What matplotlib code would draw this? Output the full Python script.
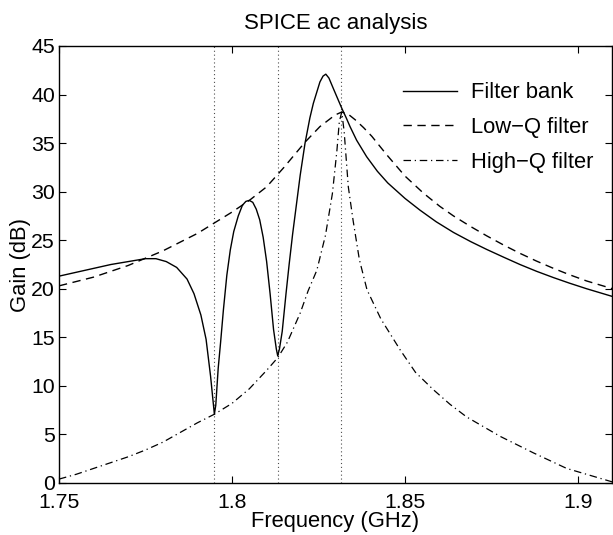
import matplotlib
matplotlib.use("Agg")
from matplotlib import pyplot as plt

plt.rcParams['font.family'] = ['Liberation Sans', 'DejaVu Sans']

# Filter bank (solid), GHz / dB
bank_f = [1.750, 1.755, 1.760, 1.765, 1.770, 1.775, 1.778, 1.781, 1.784, 1.787,
          1.789, 1.791, 1.7925, 1.7938, 1.7945, 1.7949, 1.7953, 1.7960, 1.7967, 1.7975,
          1.7985, 1.7995, 1.8005, 1.8018, 1.8030, 1.8040, 1.8050, 1.8060, 1.8070, 1.8080,
          1.8090, 1.8100, 1.8110, 1.8120, 1.8128, 1.8132, 1.8137, 1.8145, 1.8156, 1.8165,
          1.8175, 1.8197, 1.8211, 1.8225, 1.8235, 1.8254, 1.8263, 1.8271, 1.8280, 1.8293,
          1.8305, 1.8317, 1.8330, 1.8341, 1.8360, 1.8389, 1.8420, 1.8450, 1.8500, 1.8543,
          1.8590, 1.8640, 1.8690, 1.8736, 1.8785, 1.8832, 1.8880, 1.8929, 1.8975, 1.9025,
          1.9100]
bank_db = [21.3, 21.7, 22.1, 22.5, 22.8, 23.1, 23.1, 22.8, 22.2, 21.0,
           19.5, 17.3, 14.8, 11.0, 8.5, 7.1, 8.0, 11.8, 14.5, 17.8,
           21.4, 24.0, 25.9, 27.5, 28.6, 29.0, 29.1, 28.9, 28.2, 27.1,
           25.3, 22.8, 19.5, 15.8, 13.8, 13.1, 13.8, 15.6, 19.5, 22.5,
           25.6, 31.7, 35.0, 37.6, 39.1, 41.3, 41.9, 42.1, 41.7, 40.6,
           39.6, 38.6, 37.6, 36.7, 35.3, 33.6, 32.1, 30.9, 29.3, 28.1,
           26.9, 25.8, 24.85, 24.05, 23.25, 22.5, 21.8, 21.15, 20.58, 20.0,
           19.2]

# Low-Q filter (dashed)
lowq_f = [1.750, 1.760, 1.770, 1.780, 1.790, 1.795, 1.800, 1.805, 1.810, 1.815,
          1.8211, 1.8254, 1.8298, 1.8317, 1.8335, 1.8356, 1.8380, 1.8404, 1.8447, 1.8500,
          1.8553, 1.8600, 1.8640, 1.8690, 1.8736, 1.8785, 1.8832, 1.8880, 1.8929, 1.8975,
          1.9025, 1.9100]
lowq_db = [20.3, 21.2, 22.4, 23.9, 25.7, 26.8, 27.9, 29.1, 30.5, 32.5,
           35.1, 36.7, 37.9, 38.2, 38.0, 37.4, 36.6, 35.7, 33.8, 31.6,
           29.85, 28.5, 27.5, 26.4, 25.45, 24.5, 23.65, 22.85, 22.1, 21.45,
           20.8, 20.0]

# High-Q filter (dash-dot)
highq_f = [1.750, 1.755, 1.760, 1.765, 1.770, 1.775, 1.780, 1.785, 1.790, 1.795,
           1.800, 1.805, 1.810, 1.8132, 1.816, 1.8197, 1.822, 1.8245, 1.827, 1.829,
           1.8303, 1.831, 1.8317, 1.8324, 1.8336, 1.835, 1.8368, 1.839, 1.843, 1.8486,
           1.853, 1.8582, 1.863, 1.8678, 1.8775, 1.8871, 1.8967, 1.910]
highq_db = [0.4, 0.9, 1.5, 2.1, 2.7, 3.4, 4.2, 5.2, 6.2, 7.1,
            8.2, 9.7, 11.6, 12.9, 14.5, 17.5, 19.8, 21.9, 25.5, 29.8,
            34.2, 37.2, 38.2, 36.2, 30.5, 27.0, 23.0, 19.9, 16.9, 13.7,
            11.4, 9.6, 8.1, 6.8, 4.8, 3.1, 1.5, 0.1]

# Resonance markers
marks = [1.7948, 1.8132, 1.8315]

xticks = [1.75, 1.8, 1.85, 1.9]
xtick_labels = ['1.75', '1.8', '1.85', '1.9']
yticks = [0, 5, 10, 15, 20, 25, 30, 35, 40, 45]

fig = plt.figure(figsize=(6.13, 5.35), dpi=100)
ax = fig.add_axes([59 / 613, 1 - 483 / 535, 553 / 613, 437 / 535])

for f in marks:
    ax.axvline(f, color='0.3', linestyle=(0, (1, 2.5)), linewidth=0.8)

ax.plot(bank_f, bank_db, color='black', linestyle='-', linewidth=1.0, label='Filter bank')
ax.plot(lowq_f, lowq_db, color='black', linestyle=(0, (6, 4)), linewidth=1.0, label='Low\u2212Q filter')
ax.plot(highq_f, highq_db, color='black', linestyle=(0, (6, 3, 1, 3)), linewidth=0.9, label='High\u2212Q filter')

ax.set_xlim(1.75, 1.9098)
ax.set_ylim(0, 45)
ax.set_xticks(xticks)
ax.set_xticklabels(xtick_labels)
ax.set_yticks(yticks)
ax.tick_params(direction='in', length=5, width=0.8, top=True, right=True, labelsize=15.3)
ax.tick_params(axis='x', pad=7.5)
ax.tick_params(axis='y', pad=3)
for s in ax.spines.values():
    s.set_linewidth(1.0)

ax.set_xlabel('Frequency (GHz)', fontsize=15.8, labelpad=-1)
ax.set_ylabel('Gain (dB)', fontsize=15.8, labelpad=0)
ax.set_title('SPICE ac analysis', fontsize=16, pad=12)

leg = ax.legend(loc='upper right', bbox_to_anchor=(0.9815, 0.937), borderaxespad=0,
                frameon=False, fontsize=15.8, handlelength=2.5,
                handletextpad=0.6, labelspacing=0.62)

fig.savefig('out.png', dpi=100)
